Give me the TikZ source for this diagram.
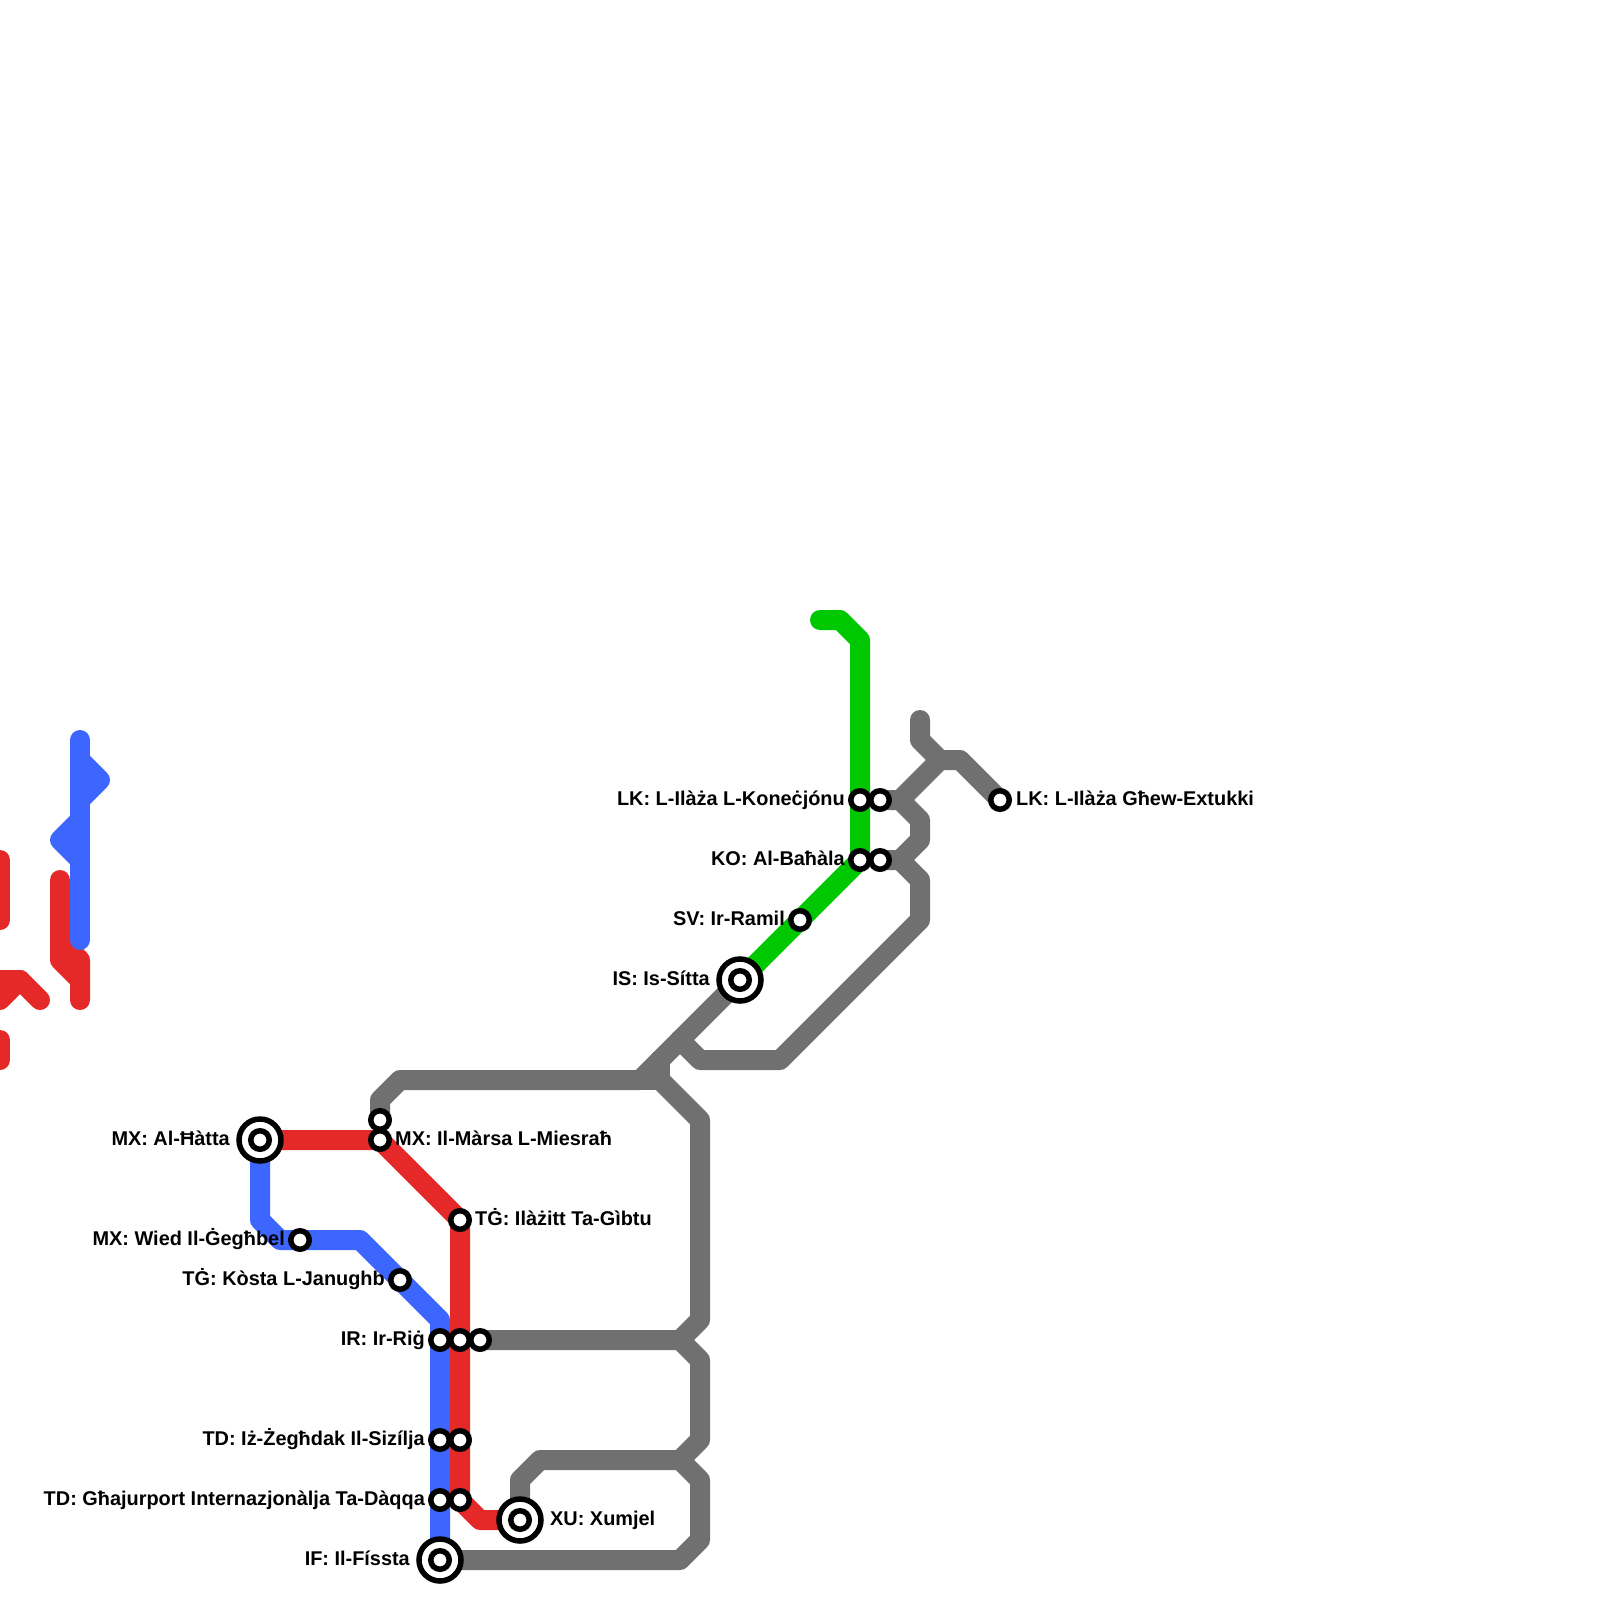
\documentclass[tikz,border=0pt]{standalone}
\usepackage{fontspec}
\setmainfont{Liberation Sans}
\definecolor{redline}{HTML}{E52929}
\definecolor{blueline}{HTML}{3D66FF}
\definecolor{greenline}{HTML}{00C800}
\definecolor{grayline}{HTML}{707070}
\tikzset{
  x=1pt,y=-1pt,
  metro/.style={line width=20pt,line cap=round,line join=round},
  redmetro/.style={metro,draw=redline},
  bluemetro/.style={metro,draw=blueline},
  greenmetro/.style={metro,draw=greenline},
  graymetro/.style={metro,draw=grayline},
  halt/.style={circle,draw=black,fill=white,line width=5.5pt,inner sep=0pt,minimum size=18.5pt,outer sep=0pt},
  hub/.style={circle,draw=black,fill=white,line width=5.5pt,inner sep=0pt,minimum size=42pt,outer sep=0pt},
  lbl/.style={font=\fontsize{19.9}{20}\selectfont\bfseries,text=black,inner sep=0pt},
  lblL/.style={lbl,anchor=base east},
  lblR/.style={lbl,anchor=base west},
}
\begin{document}
\begin{tikzpicture}
\useasboundingbox (0,0) rectangle (1600,1600);
\fill[white] (0,0) rectangle (1600,1600);
\clip (0,0) rectangle (1600,1600);
% station positions
\coordinate (IF) at (440,1560);
\coordinate (XU) at (520,1520);
\coordinate (TDb) at (440,1500);
\coordinate (TDr) at (460,1500);
\coordinate (TZb) at (440,1440);
\coordinate (TZr) at (460,1440);
\coordinate (IRb) at (440,1340);
\coordinate (IRr) at (460,1340);
\coordinate (IRg) at (480,1340);
\coordinate (TGi) at (460,1220);
\coordinate (MXm) at (380,1140);
\coordinate (MXg) at (380,1120);
\coordinate (MXh) at (260,1140);
\coordinate (MXw) at (300,1240);
\coordinate (TGk) at (400,1280);
\coordinate (IS) at (740,980);
\coordinate (SV) at (800,920);
\coordinate (KOg) at (860,860);
\coordinate (KOk) at (880,860);
\coordinate (LKg) at (860,800);
\coordinate (LKk) at (880,800);
\coordinate (LKe) at (1000,800);
% junctions
\coordinate (jA) at (660,1080);
\coordinate (jB) at (680,1040);
\coordinate (jC) at (680,1340);
\coordinate (jD) at (680,1460);
\coordinate (jE) at (900,860);
\coordinate (jF) at (900,800);
\coordinate (jG) at (940,760);
% gray lines
\draw[graymetro] (MXg) -- (380,1100) -- (400,1080) -- (640,1080) -- (IS);
\draw[graymetro] (640,1080) -- (jA) -- (660,1060);
\draw[graymetro] (jA) -- (700,1120) -- (700,1320) -- (jC) -- (IRg);
\draw[graymetro] (jC) -- (700,1360) -- (700,1440) -- (jD) -- (540,1460) -- (520,1480) -- (XU);
\draw[graymetro] (jD) -- (700,1480) -- (700,1540) -- (680,1560) -- (IF);
\draw[graymetro] (jB) -- (700,1060) -- (780,1060) -- (920,920) -- (920,880) -- (jE) -- (KOk);
\draw[graymetro] (jE) -- (920,840) -- (920,820) -- (jF) -- (LKk);
\draw[graymetro] (jF) -- (jG) -- (960,760) -- (LKe);
\draw[graymetro] (920,720) -- (920,740) -- (jG);
% green line
\draw[greenmetro] (820,620) -- (840,620) -- (860,640) -- (KOg) -- (IS);
% blue main, red main
\draw[bluemetro] (MXh) -- (260,1220) -- (280,1240) -- (360,1240) -- (440,1320) -- (IF);
\draw[redmetro] (MXh) -- (MXm) -- (TGi) -- (TDr) -- (480,1520) -- (XU);
% detached fragments at the left
\draw[redmetro] (0,860) -- (0,920);
\draw[redmetro] (0,1040) -- (0,1060);
\draw[redmetro] (0,1000) -- (20,980) -- (40,1000);
\draw[redmetro] (0,980) -- (20,980);
\draw[redmetro] (60,880) -- (60,960) -- (80,980) -- (80,1000);
\draw[redmetro] (60,940) -- (80,960) -- (80,980);
\draw[bluemetro] (80,740) -- (80,940);
\draw[bluemetro] (80,760) -- (100,780) -- (80,800);
\draw[bluemetro] (80,820) -- (60,840) -- (80,860);
% stations
\node[halt] (nTDb) at (TDb) {};
\node[halt] (nTDr) at (TDr) {};
\node[halt] (nTZb) at (TZb) {};
\node[halt] (nTZr) at (TZr) {};
\node[halt] (nIRb) at (IRb) {};
\node[halt] (nIRr) at (IRr) {};
\node[halt] (nIRg) at (IRg) {};
\node[halt] (nTGi) at (TGi) {};
\node[halt] (nMXg) at (MXg) {};
\node[halt] (nMXm) at (MXm) {};
\node[halt] (nMXw) at (MXw) {};
\node[halt] (nTGk) at (TGk) {};
\node[halt] (nSV) at (SV) {};
\node[halt] (nKOg) at (KOg) {};
\node[halt] (nKOk) at (KOk) {};
\node[halt] (nLKg) at (LKg) {};
\node[halt] (nLKk) at (LKk) {};
\node[halt] (nLKe) at (LKe) {};
\node[hub] (hIF) at (IF) {};
\node[halt] (iIF) at (IF) {};
\node[hub] (hXU) at (XU) {};
\node[halt] (iXU) at (XU) {};
\node[hub] (hMX) at (MXh) {};
\node[halt] (iMX) at (MXh) {};
\node[hub] (hIS) at (IS) {};
\node[halt] (iIS) at (IS) {};
% labels
\node[lblL] (t1) at (230,1145) {MX: Al-Ħàtta};
\node[lblR] (t2) at (395,1145) {MX: Il-Màrsa L-Miesraħ};
\node[lblR] (t3) at (475,1225) {TĠ: Ilàżitt Ta-Gìbtu};
\node[lblL] (t4) at (285,1245) {MX: Wied Il-Ġegħbel};
\node[lblL] (t5) at (385,1285) {TĠ: Kòsta L-Janughb};
\node[lblL] (t6) at (425,1345) {IR: Ir-Riġ};
\node[lblL] (t7) at (425,1445) {TD: Iż-Żegħdak Il-Sizílja};
\node[lblL] (t8) at (425,1505) {TD: Għajurport Internazjonàlja Ta-Dàqqa};
\node[lblL] (t9) at (410,1565) {IF: Il-Físsta};
\node[lblR] (t10) at (550,1525) {XU: Xumjel};
\node[lblL] (t11) at (710,985) {IS: Is-Sítta};
\node[lblL] (t12) at (785,925) {SV: Ir-Ramil};
\node[lblL] (t13) at (845,865) {KO: Al-Baħàla};
\node[lblL] (t14) at (845,805) {LK: L-Ilàża L-Koneċjónu};
\node[lblR] (t15) at (1016,805) {LK: L-Ilàża Għew-Extukki};
\end{tikzpicture}
\end{document}
